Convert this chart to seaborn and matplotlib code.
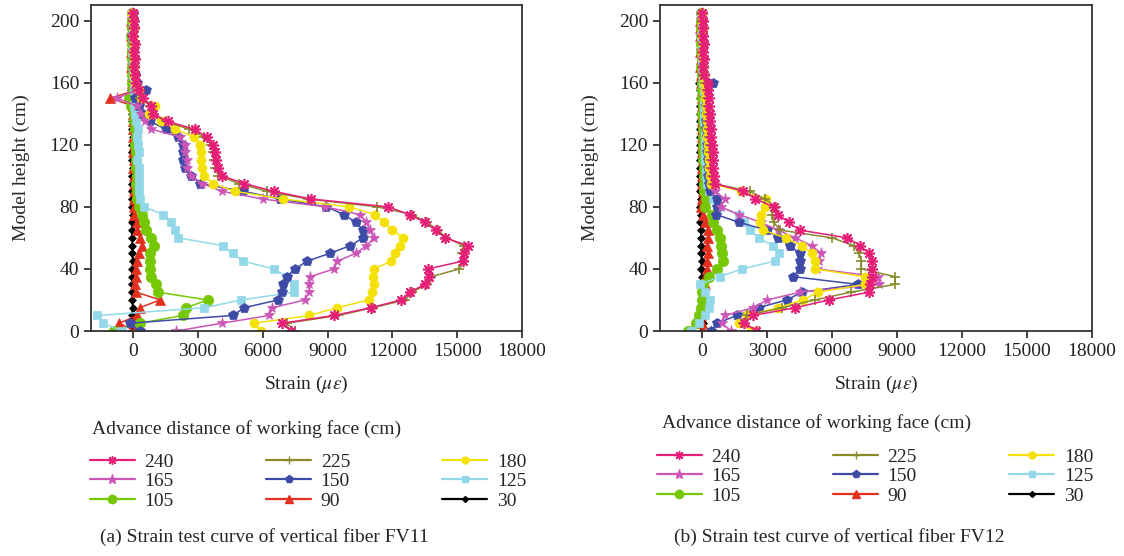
import matplotlib
matplotlib.use('Agg')
import matplotlib.pyplot as plt
import seaborn as sns
from matplotlib.lines import Line2D

# model height of each fibre reading (cm)
heights = [0, 5, 10, 15, 20, 25, 30, 35, 40, 45,
           50, 55, 60, 65, 70, 75, 80, 85, 90, 95,
           100, 105, 110, 115, 120, 125, 130, 135, 140, 145,
           150, 155, 160, 165, 170, 175, 180, 185, 190, 195,
           200, 205]

# FV11 strain (micro strain), one list per advance distance
fv11_240 = [7300, 6900, 9300, 11000, 12400, 12800, 13500, 13700, 13650, 15250,
            15300, 15500, 14450, 14000, 13500, 12800, 11800, 8250, 6500, 5150,
            4100, 3950, 3850, 3800, 3700, 3400, 2850, 1600, 900, 850,
            450, 250, 150, 100, 60, 90, 40, 70, 10, 50,
            30, 0]
fv11_225 = [7500, 7100, 9500, 11100, 12600, 12900, 13600, 13800, 15100, 15300,
            15200, 15300, 14500, 14100, 13600, 12900, 11300, 8100, 6200, 4900,
            3950, 3800, 3750, 3700, 3600, 3300, 2600, 1500, 900, 800,
            300, 200, 120, 80, 40, 70, 20, 50, -10, 30,
            10, -20]
fv11_180 = [5900, 5600, 8150, 9450, 10900, 11050, 11150, 11100, 11150, 11950,
            12100, 12350, 12500, 12000, 11600, 11200, 10000, 6950, 4700, 3700,
            3300, 3200, 3150, 3150, 3100, 2800, 1950, 1300, 750, 1000,
            350, 250, 100, 60, 20, 50, 0, 30, -20, 20,
            0, -30]
fv11_165 = [2000, 4100, 6300, 6450, 7950, 8150, 8150, 8200, 9300, 9450,
            10300, 10800, 11150, 10950, 10800, 10500, 8900, 6000, 4100, 3200,
            2700, 2500, 2500, 2400, 2400, 2150, 850, 550, 350, 200,
            -750, 100, 50, 30, 0, 40, -20, 20, -40, 10,
            -10, -40]
fv11_150 = [300, -150, 4600, 5150, 6700, 6900, 6950, 7100, 7500, 8050,
            9100, 10050, 10650, 10650, 10300, 9750, 8950, 6800, 5100, 3100,
            2700, 2400, 2300, 2300, 2300, 2100, 1500, 800, 450, 280,
            100, 600, 200, 80, 30, 60, 0, 40, -30, 20,
            0, -20]
fv11_125 = [-500, -1400, -1650, 3300, 5000, 7450, 7450, 7100, 6500, 5100,
            4600, 4150, 2100, 1950, 1750, 1400, 500, 300, 280, 250,
            280, 250, 200, 250, 230, 200, 220, 150, 100, 50,
            80, 30, 20, 0, -20, 10, -30, 0, -40, -10,
            -20, -40]
fv11_105 = [-900, 300, 2300, 2450, 3450, 1150, 1050, 850, 800, 800,
            800, 950, 850, 600, 500, 400, 250, 200, 180, 150,
            160, 150, 130, 120, 100, 110, 80, 60, 50, -100,
            -200, 0, -30, -50, -60, -40, -70, -50, -80, -60,
            -70, -60]
fv11_90 = [100, -650, 200, 300, 1250, 150, 100, 150, 150, 200,
           250, 400, 300, 200, 180, 60, 50, 30, 20, 30,
           20, 10, 30, 0, 20, 10, 0, -10, 0, 0,
           -1050, 100, -50, -60, -80, -50, -90, -60, -90, -70,
           -80, -60]
fv11_30 = [-50, -30, -60, -20, -50, -30, -60, -30, -50, -20,
           -50, -30, -60, -30, -50, -20, -50, -30, -60, -30,
           -50, -20, -60, -30, -50, -20, -50, -30, -60, -30,
           -50, -80, -60, -90, -70, -100, -80, -90, -70, -80,
           -60, -70]

# FV12 strain (micro strain)
fv12_240 = [2500, 1950, 2350, 4300, 5850, 7700, 7750, 7850, 7850, 7850,
            7700, 7300, 6700, 4500, 4000, 3500, 3300, 2450, 1900, 600,
            550, 500, 500, 480, 450, 420, 400, 380, 350, 320,
            300, 280, 250, 100, 50, 80, 30, 60, 20, 50,
            20, 0]
fv12_225 = [2600, 1900, 2050, 3700, 5200, 6850, 8900, 8900, 7350, 7350,
            7250, 7000, 6000, 3600, 3300, 3200, 3400, 2900, 2200, 500,
            450, 420, 400, 380, 350, 330, 300, 280, 260, 240,
            220, 200, 150, 80, 40, 60, 20, 40, 0, 30,
            10, -10]
fv12_180 = [2300, 1700, 2050, 3500, 4650, 5350, 7500, 7500, 5200, 5200,
            5050, 4600, 3850, 2800, 2650, 2700, 2900, 2950, 1800, 400,
            350, 330, 300, 280, 260, 240, 220, 200, 180, 160,
            140, 120, 100, 60, 20, 40, 0, 30, -20, 20,
            0, -20]
fv12_165 = [1350, 900, 1050, 2350, 3000, 4500, 8150, 8100, 5300, 5400,
            5500, 5050, 4300, 3500, 2700, 1700, 850, 1050, 600, 400,
            350, 330, 300, 280, 260, 240, 220, 200, 180, 160,
            150, 130, 100, 50, 10, 40, -10, 20, -30, 10,
            -10, -30]
fv12_150 = [400, 700, 1600, 2600, 3900, 4600, 7200, 4200, 4500, 4500,
            4500, 4050, 3500, 3000, 1700, 650, 700, 700, 350, 300,
            280, 260, 250, 230, 220, 200, 190, 180, 170, 160,
            150, 200, 520, 100, 20, 50, 0, 30, -20, 20,
            0, -20]
fv12_125 = [-500, -150, 150, 300, 350, 150, -100, 800, 1850, 3350,
            3550, 3250, 2600, 2200, 1950, 1700, 750, 500, 300, 200,
            180, 160, 150, 140, 130, 120, 110, 100, 90, 80,
            70, 60, 50, 20, -10, 10, -30, 0, -40, -10,
            -20, -40]
fv12_105 = [-650, -300, -150, -50, 0, 0, 50, 300, 700, 950,
            900, 880, 830, 700, 520, 450, 150, 170, 100, 80,
            70, 60, 50, 40, 30, 40, 20, 30, 10, 20,
            0, 10, -20, -30, -50, -30, -60, -40, -70, -50,
            -60, -50]
fv12_90 = [50, 0, -50, 0, 50, 100, 150, 150, 200, 220,
           250, 220, 250, 280, 150, 50, -50, 0, 20, 0,
           10, 0, 20, 0, 10, -10, 0, -20, 0, -10,
           -20, -30, -40, -60, -80, -60, -90, -70, -100, -80,
           -90, -70]
fv12_30 = [0, 20, -20, 10, -30, 0, -40, -20, -50, -30,
           -60, -40, -70, -50, -80, -60, -90, -70, -100, -80,
           -100, -80, -110, -90, -110, -90, -120, -100, -110, -90,
           -120, -100, -130, -30, -20, 10, -10, 20, 0, 30,
           10, 20]

labels = ['240', '225', '180', '165', '150', '125', '105', '90', '30']
colors = {'240': '#E61E78', '225': '#8A8A2C', '180': '#F5E10A', '165': '#CC56B8',
          '150': '#3E4BA6', '125': '#92D8E8', '105': '#76C706', '90': '#E2301E',
          '30': '#000000'}
markers = {'240': (8, 2, 0), '225': '+', '180': 'o', '165': '*', '150': 'p',
           '125': 's', '105': 'o', '90': '^', '30': 'D'}
msizes = {'240': 8, '225': 7, '180': 6.5, '165': 8, '150': 7, '125': 6,
          '105': 7.5, '90': 7.5, '30': 4.5}

fv11 = dict(zip(labels, [fv11_240, fv11_225, fv11_180, fv11_165, fv11_150,
                         fv11_125, fv11_105, fv11_90, fv11_30]))
fv12 = dict(zip(labels, [fv12_240, fv12_225, fv12_180, fv12_165, fv12_150,
                         fv12_125, fv12_105, fv12_90, fv12_30]))

sns.set_theme(style='ticks')
plt.rcParams['font.family'] = ['Liberation Serif', 'DejaVu Serif']
plt.rcParams['mathtext.fontset'] = 'stix'

fig = plt.figure(figsize=(11.24, 5.56), dpi=100)
ax1 = fig.add_axes([91 / 1124, 1 - 331 / 556, 431 / 1124, 326 / 556])
ax2 = fig.add_axes([660 / 1124, 1 - 331 / 556, 432 / 1124, 326 / 556])


def draw(ax, series):
    # draw the earliest stage first so 240 ends on top
    for lab in reversed(labels):
        mk = markers[lab]
        sns.lineplot(x=series[lab], y=heights, ax=ax, sort=False, estimator=None,
                     color=colors[lab], linewidth=1.1, marker=mk,
                     markersize=msizes[lab], markeredgecolor=colors[lab],
                     markeredgewidth=1.2 if mk in ['+', (8, 2, 0)] else 0.5)
    ax.set_xlim(-1950, 18000)
    ax.set_ylim(0, 210)
    ax.set_xticks(range(0, 18001, 3000))
    ax.set_yticks(range(0, 201, 40))
    ax.tick_params(direction='out', length=5, width=1.2, labelsize=14, colors='#222222')
    for sp in ax.spines.values():
        sp.set_visible(True)
        sp.set_linewidth(1.3)
        sp.set_color('#333333')
    ax.set_xlabel('Strain ($\\mu\\varepsilon$)', fontsize=14, labelpad=10)
    ax.set_ylabel('Model height (cm)', fontsize=14, labelpad=14)


draw(ax1, fv11)
draw(ax2, fv12)

# legend filled row by row, as in the figure
order = ['240', '165', '105', '225', '150', '90', '180', '125', '30']
handles = [Line2D([0], [0], color=colors[k], marker=markers[k], markersize=msizes[k] - 1.5,
                  markeredgecolor=colors[k], linewidth=1.6) for k in order]

title = 'Advance distance of working face (cm)'
# (title x, title y, legend x, legend top) in pixels
for tx, ty, lx, ly in [(92, 429, 90, 453), (662, 423, 657, 448)]:
    fig.text(tx / 1124, 1 - ty / 556, title, fontsize=14, va='center', ha='left')
    fig.legend(handles, order, ncol=3, loc='upper left',
               bbox_to_anchor=(lx / 1124, 1 - ly / 556),
               frameon=False, fontsize=14, handlelength=2.3,
               handletextpad=0.5, columnspacing=4.75, labelspacing=0.1,
               borderpad=0, borderaxespad=0)

fig.text(100 / 1124, 1 - 537 / 556, '(a) Strain test curve of vertical fiber FV11',
         fontsize=14, va='center', ha='left')
fig.text(674 / 1124, 1 - 537 / 556, '(b) Strain test curve of vertical fiber FV12',
         fontsize=14, va='center', ha='left')

fig.savefig('out.png', dpi=100)
